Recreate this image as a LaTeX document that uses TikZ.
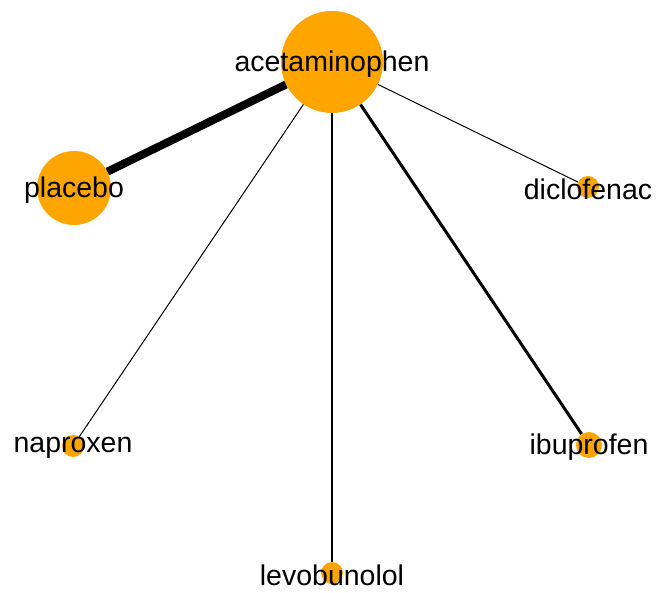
\documentclass[tikz,border=0pt]{standalone}
\usepackage{fontspec}
\setmainfont{Liberation Sans}
\definecolor{netorange}{RGB}{255,165,0}
\tikzset{drug/.style={circle, fill=netorange, inner sep=0pt, minimum size=#1}}

\begin{document}
\begin{tikzpicture}[x=1pt, y=-1pt, font=\fontsize{28.5}{31}\selectfont]
                  \useasboundingbox (0, 0) rectangle (657, 593);
                  \foreach \n/\x/\y/\d in {acetaminophen/332/62/102, placebo/74/188/74, diclofenac/588/187/22,
                          naproxen/73/446/22, ibuprofen/589/445/26, levobunolol/332/573/22}
                      \node[drug=\d pt] (\n) at (\x, \y) {};
                  \foreach \n/\w in {placebo/8, diclofenac/1, naproxen/1, levobunolol/1.2, ibuprofen/3}
                      \draw[line width=\w pt] (acetaminophen) -- (\n);
                  \foreach \n in {acetaminophen, placebo, diclofenac, naproxen, ibuprofen, levobunolol}
                      \node[yshift=-2pt] (\n-label) at (\n) {\n};
              \end{tikzpicture}
\end{document}
